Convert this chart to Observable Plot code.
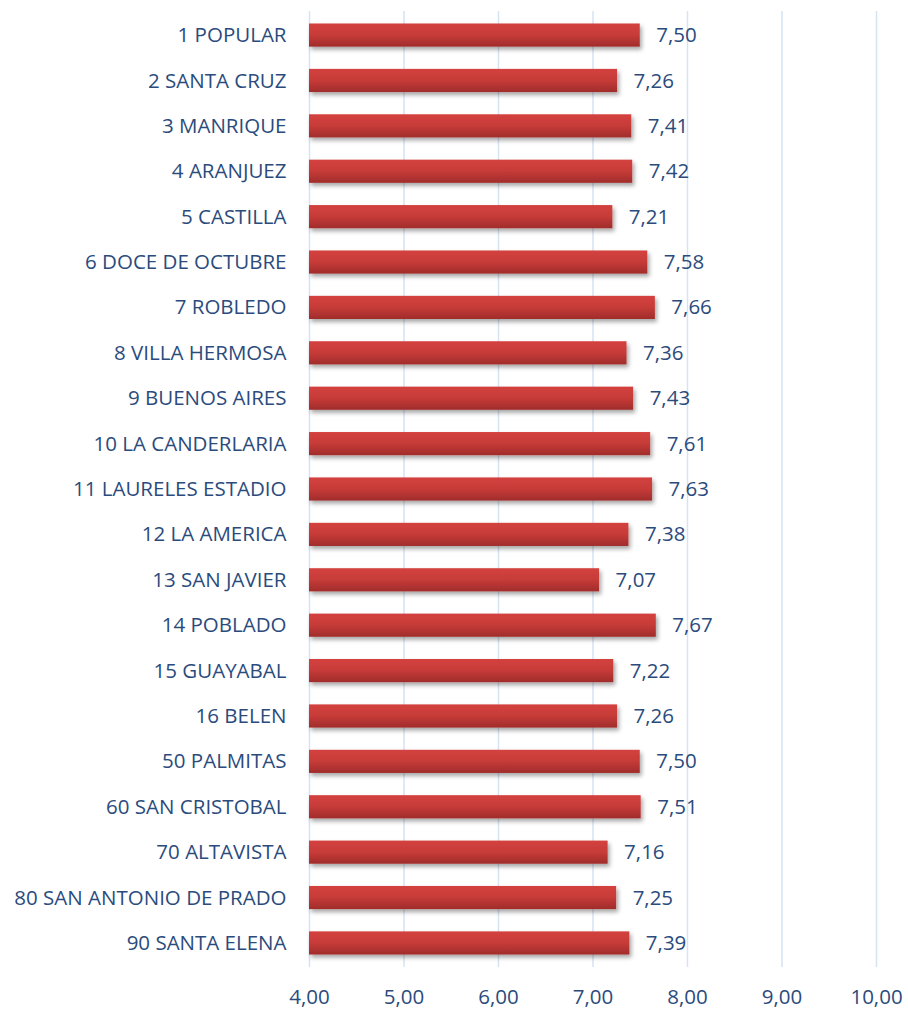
<!DOCTYPE html>
<html><head><meta charset="utf-8">
<script src="https://cdn.jsdelivr.net/npm/d3@7"></script>
<script src="https://cdn.jsdelivr.net/npm/@observablehq/plot@0.6"></script>
<style>body{margin:0;background:#fff;}</style>
</head><body><div id="chart"></div>
<script>
const categories = ["1 POPULAR","2 SANTA CRUZ","3 MANRIQUE","4 ARANJUEZ","5 CASTILLA","6 DOCE DE OCTUBRE","7 ROBLEDO","8 VILLA HERMOSA","9 BUENOS AIRES","10 LA CANDERLARIA","11 LAURELES ESTADIO","12 LA AMERICA","13 SAN JAVIER","14 POBLADO","15 GUAYABAL","16 BELEN","50 PALMITAS","60 SAN CRISTOBAL","70 ALTAVISTA","80 SAN ANTONIO DE PRADO","90 SANTA ELENA"];
const values = [7.50,7.26,7.41,7.42,7.21,7.58,7.66,7.36,7.43,7.61,7.63,7.38,7.07,7.67,7.22,7.26,7.50,7.51,7.16,7.25,7.39];
const xTicks = [4,5,6,7,8,9,10];

const data = categories.map((c,i)=>({name:c, value:values[i]}));
const fmt = v => v.toFixed(2).replace(".", ",");

const chart = Plot.plot({
  width: 908, height: 1010,
  marginLeft: 309, marginRight: 32, marginTop: 11, marginBottom: 43,
  style: {fontFamily: "'Open Sans', Lato, sans-serif", fontSize: "20.5px", color: "#2b4b7d", background: "#fff"},
  x: {domain: [4,10], ticks: xTicks, tickFormat: fmt, tickSize: 0, tickPadding: 22, label: null},
  y: {domain: categories, paddingInner: 0.49, paddingOuter: 0.275, round: false, tickSize: 0, tickPadding: 23, label: null},
  marks: [
    Plot.gridX(xTicks, {stroke: "#d6e3f3", strokeOpacity: 1, strokeWidth: 1.5}),
    Plot.barX(data, {y: "name", x1: 4, x2: "value", fill: "url(#barGrad)"}),
    Plot.text(data, {y: "name", x: "value", text: d => fmt(d.value), dx: 16, textAnchor: "start", fill: "#2b4b7d", fontSize: 20.5})
  ]
});

const ns = "http://www.w3.org/2000/svg";
const defs = document.createElementNS(ns, "defs");
defs.innerHTML = `
<linearGradient id="barGrad" x1="0" y1="0" x2="0" y2="1">
  <stop offset="0" stop-color="#d4423f"/>
  <stop offset="0.5" stop-color="#c63b38"/>
  <stop offset="1" stop-color="#a02c2b"/>
</linearGradient>
<filter id="shadow" x="-5%" y="-30%" width="112%" height="190%">
  <feDropShadow dx="2" dy="3" stdDeviation="2" flood-color="#000" flood-opacity="0.35"/>
</filter>`;
chart.insertBefore(defs, chart.firstChild);
const barG = [...chart.querySelectorAll("g")].find(g => g.getAttribute("fill") === "url(#barGrad)");
if (barG) barG.setAttribute("filter", "url(#shadow)");
document.getElementById("chart").appendChild(chart);
</script>
</body></html>
